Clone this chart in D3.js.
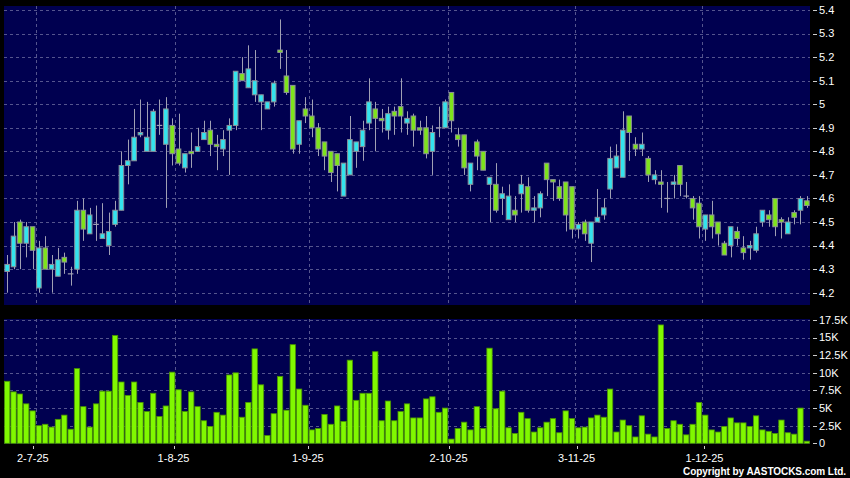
<!DOCTYPE html>
<html><head><meta charset="utf-8">
<script src="https://cdn.jsdelivr.net/npm/d3@7"></script>
<style>html,body{margin:0;padding:0;background:#000;}svg{display:block;}</style>
</head><body>
<svg id="c" width="850" height="478"></svg>
<script>
const open = [4.29,4.31,4.50,4.41,4.48,4.22,4.39,4.30,4.27,4.35,
4.28,4.30,4.55,4.45,4.49,4.43,4.40,4.49,4.55,4.74,
4.76,4.87,4.80,4.80,4.91,4.83,4.91,4.81,4.73,4.80,
4.80,4.85,4.89,4.83,4.81,4.89,4.91,5.13,5.07,5.04,
5.01,4.98,5.01,5.23,5.12,5.08,4.83,4.98,4.95,4.90,
4.84,4.80,4.79,4.61,4.70,4.80,4.82,4.92,4.98,4.94,
4.89,4.97,4.99,4.92,4.95,4.90,4.90,4.80,4.90,4.90,
5.05,4.87,4.87,4.66,4.84,4.80,4.66,4.66,4.60,4.51,
4.55,4.62,4.65,4.55,4.56,4.75,4.68,4.65,4.67,4.65,
4.47,4.50,4.41,4.50,4.53,4.64,4.73,4.69,4.95,4.83,
4.81,4.77,4.68,4.67,4.60,4.66,4.74,4.61,4.60,4.58,
4.47,4.53,4.50,4.41,4.40,4.46,4.39,4.39,4.38,4.50,
4.53,4.60,4.51,4.45,4.54,4.55,4.59];
const close = [4.32,4.44,4.41,4.48,4.38,4.39,4.30,4.32,4.34,4.33,
4.28,4.55,4.47,4.53,4.49,4.45,4.46,4.55,4.74,4.76,
4.86,4.88,4.86,4.97,4.91,4.98,4.79,4.75,4.79,4.79,
4.82,4.88,4.83,4.82,4.85,4.91,5.14,5.10,5.15,5.10,
5.04,5.01,5.09,5.22,5.05,4.81,4.93,4.95,4.90,4.81,
4.78,4.71,4.74,4.75,4.85,4.84,4.89,5.01,4.94,4.93,
4.96,4.95,4.95,4.94,4.89,4.89,4.79,4.88,4.90,5.01,
4.93,4.85,4.73,4.75,4.78,4.72,4.69,4.55,4.62,4.61,
4.53,4.66,4.55,4.56,4.62,4.68,4.67,4.60,4.53,4.47,
4.49,4.45,4.50,4.52,4.56,4.77,4.78,4.89,4.88,4.81,
4.83,4.70,4.70,4.66,4.60,4.67,4.66,4.61,4.56,4.48,
4.53,4.48,4.45,4.36,4.48,4.43,4.37,4.40,4.45,4.55,
4.51,4.48,4.50,4.50,4.52,4.60,4.57];
const high = [4.36,4.50,4.51,4.50,4.48,4.42,4.44,4.36,4.39,4.37,
4.31,4.59,4.60,4.56,4.57,4.58,4.54,4.59,4.80,4.85,
4.98,5.02,5.01,4.98,5.02,5.03,4.94,4.96,4.79,4.88,
4.90,4.93,4.93,4.87,4.89,4.94,5.14,5.20,5.25,5.23,
5.04,5.01,5.10,5.36,5.23,5.08,4.93,5.03,5.02,4.92,
4.84,4.80,4.79,4.75,4.95,4.84,4.93,5.11,5.01,4.98,
4.99,4.99,5.11,4.97,4.96,4.93,4.95,4.91,4.99,5.02,
5.05,4.90,4.87,4.75,4.85,4.80,4.69,4.75,4.65,4.66,
4.61,4.70,4.69,4.61,4.63,4.75,4.68,4.68,4.67,4.65,
4.50,4.51,4.50,4.64,4.60,4.82,4.83,4.97,4.95,4.86,
4.88,4.78,4.72,4.72,4.67,4.70,4.74,4.67,4.61,4.61,
4.53,4.59,4.50,4.42,4.48,4.48,4.44,4.42,4.48,4.55,
4.55,4.60,4.52,4.52,4.55,4.61,4.61];
const low = [4.20,4.30,4.30,4.35,4.30,4.20,4.30,4.20,4.27,4.28,
4.23,4.28,4.42,4.45,4.42,4.43,4.36,4.48,4.55,4.66,
4.76,4.86,4.80,4.80,4.87,4.56,4.74,4.74,4.71,4.73,
4.80,4.85,4.78,4.72,4.78,4.70,4.89,5.10,5.07,5.01,
4.89,4.98,4.99,5.15,5.04,4.79,4.79,4.92,4.86,4.78,
4.72,4.67,4.63,4.61,4.70,4.73,4.76,4.89,4.80,4.88,
4.85,4.87,4.88,4.87,4.82,4.87,4.77,4.70,4.86,4.90,
4.88,4.82,4.70,4.63,4.72,4.72,4.50,4.54,4.53,4.51,
4.50,4.54,4.54,4.50,4.52,4.61,4.59,4.59,4.46,4.43,
4.43,4.42,4.33,4.50,4.51,4.60,4.73,4.69,4.76,4.78,
4.78,4.67,4.66,4.56,4.54,4.60,4.61,4.60,4.51,4.43,
4.42,4.43,4.40,4.36,4.35,4.40,4.34,4.34,4.37,4.48,
4.48,4.44,4.43,4.45,4.49,4.49,4.56];
// volume in thousands of shares
const volume = [8.8,7.3,7.0,5.6,4.6,2.5,2.7,2.3,3.4,4.0,
2.0,10.6,5.2,2.3,5.6,7.4,7.4,15.3,8.7,6.8,
8.7,5.8,4.5,7.1,3.8,5.3,10.1,7.6,4.5,7.3,
5.2,3.2,2.4,4.4,4.0,9.7,10.0,3.7,5.8,13.4,
8.3,1.1,4.2,9.5,4.7,14.0,7.7,5.4,1.9,2.1,
4.1,2.7,5.3,3.1,11.8,6.1,7.1,7.1,13.0,3.2,
6.0,3.2,4.5,5.6,3.6,3.6,6.3,6.6,4.4,5.0,
0.6,2.1,3.0,1.9,5.2,2.1,13.5,4.9,7.4,2.2,
1.4,4.4,3.5,1.6,2.2,3.0,3.5,1.5,4.6,3.5,
2.2,2.3,3.6,4.0,3.7,7.7,1.6,3.3,2.5,0.9,
3.9,1.3,0.9,16.8,2.1,3.2,2.7,1.2,2.7,5.8,
4.0,1.9,1.6,2.4,3.6,2.9,2.9,2.4,3.9,1.9,
1.7,1.4,3.3,1.5,1.3,5.0,0.3];
const dateLabels = ["2-7-25","1-8-25","1-9-25","2-10-25","3-11-25","1-12-25"];
const dateIndex = [4,26,47,69,89,109];
const priceTicks = [4.2,4.3,4.4,4.5,4.6,4.7,4.8,4.9,5.0,5.1,5.2,5.3,5.4];
const volTicks = [0,2.5,5,7.5,10,12.5,15,17.5];
const volTickLabels = ["0","2.5K","5K","7.5K","10K","12.5K","15K","17.5K"];

const N = open.length;
const svg = d3.select("#c");
const L = 4, R = 810;
const P = {top: 6, bottom: 305};
const V = {top: 319, bottom: 444};

svg.append("rect").attr("width",850).attr("height",478).attr("fill","#000");
svg.append("rect").attr("x",L).attr("y",P.top).attr("width",R-L).attr("height",P.bottom-P.top).attr("fill","#000050");
svg.append("rect").attr("x",L).attr("y",V.top).attr("width",R-L).attr("height",V.bottom-V.top).attr("fill","#000050");

const x = d3.scaleBand().domain(d3.range(N)).range([L,R]).paddingInner(0).paddingOuter(0);
const step = x.step();
const cx = i => x(i) + step/2;
const xTick = d3.scaleLinear().domain([-0.5, N-1.5]).range([L,R]);
const yP = d3.scaleLinear().domain([4.2,5.4]).range([292.7,10]);
const yV = d3.scaleLinear().domain([0,17.5]).range([443.3,320]);

const gridColor = "#55558e";
const g = svg.append("g");
g.selectAll(".hp").data(priceTicks).join("line")
  .attr("x1",L).attr("x2",R).attr("y1",d=>Math.round(yP(d))+0.5).attr("y2",d=>Math.round(yP(d))+0.5)
  .attr("stroke",gridColor).attr("stroke-width",1).attr("stroke-dasharray","3,3");
g.selectAll(".hv").data(volTicks.filter(d=>d>0)).join("line")
  .attr("x1",L).attr("x2",R).attr("y1",d=>Math.round(yV(d))+0.5).attr("y2",d=>Math.round(yV(d))+0.5)
  .attr("stroke",gridColor).attr("stroke-width",1).attr("stroke-dasharray","3,3");
dateIndex.forEach(i=>{
  const xv = Math.round(cx(i)+step/2)+0.5;
  [[P.top,P.bottom],[V.top,V.bottom]].forEach(([a,b])=>{
    g.append("line").attr("x1",xv).attr("x2",xv).attr("y1",a).attr("y2",b)
     .attr("stroke",gridColor).attr("stroke-width",1).attr("stroke-dasharray","3,3");
  });
});

const upFill = "#33e3ee", dnFill = "#7ee31c", outline = "#8b8f98", wick = "#a0a0b4";
const bw = step*0.72;
const cg = svg.append("g");
d3.range(N).forEach(i=>{
  const c = cx(i);
  const xw = Math.round(c)+0.5;
  cg.append("line").attr("x1",xw).attr("x2",xw).attr("y1",yP(high[i])).attr("y2",yP(low[i]))
    .attr("stroke",wick).attr("stroke-width",1);
  const o = open[i], cl = close[i];
  if (o === cl) {
    cg.append("line").attr("x1",c-bw/2-0.5).attr("x2",c+bw/2+0.5).attr("y1",yP(o)).attr("y2",yP(o))
      .attr("stroke",wick).attr("stroke-width",1.2);
  } else {
    const top = yP(Math.max(o,cl)), bot = yP(Math.min(o,cl));
    cg.append("rect").attr("x",c-bw/2).attr("y",top).attr("width",bw).attr("height",Math.max(1,bot-top))
      .attr("fill", cl>o ? upFill : dnFill).attr("stroke",outline).attr("stroke-width",1);
  }
});

svg.append("g").selectAll("rect").data(volume).join("rect")
  .attr("x",(d,i)=>cx(i)-step*0.42).attr("width",step*0.84)
  .attr("y",d=>yV(d)).attr("height",d=>yV(0)-yV(d))
  .attr("fill","#80f800").attr("stroke","#4a9400").attr("stroke-width",0.8);

const font = "'Liberation Sans', Arial, sans-serif";
const ax = svg.append("g").attr("font-family",font).attr("font-size",11).attr("fill","#fff");
priceTicks.forEach(p=>{
  const y = yP(p);
  ax.append("line").attr("x1",813).attr("x2",817).attr("y1",Math.round(y)+0.5).attr("y2",Math.round(y)+0.5).attr("stroke","#ccc");
  ax.append("text").attr("x",819).attr("y",y).attr("dy","0.35em").text(d3.format("")(p));
});
volTicks.forEach((v,k)=>{
  const y = yV(v);
  ax.append("line").attr("x1",813).attr("x2",817).attr("y1",Math.round(y)+0.5).attr("y2",Math.round(y)+0.5).attr("stroke","#ccc");
  ax.append("text").attr("x",819).attr("y",y).attr("dy","0.35em").text(volTickLabels[k]);
});
dateIndex.forEach((i,k)=>{
  const xt = Math.round(xTick(i))+0.5;
  ax.append("line").attr("x1",xt).attr("x2",xt).attr("y1",446).attr("y2",449).attr("stroke","#ccc");
  ax.append("text").attr("x",xTick(i)).attr("y",462).attr("text-anchor","middle").text(dateLabels[k]);
});
svg.append("text").attr("x",846).attr("y",475).attr("text-anchor","end")
  .attr("font-family",font).attr("font-size",10).attr("font-weight","bold").attr("fill","#fff")
  .attr("textLength",163).attr("lengthAdjust","spacing")
  .text("Copyright by AASTOCKS.com Ltd.");
</script>
</body></html>
